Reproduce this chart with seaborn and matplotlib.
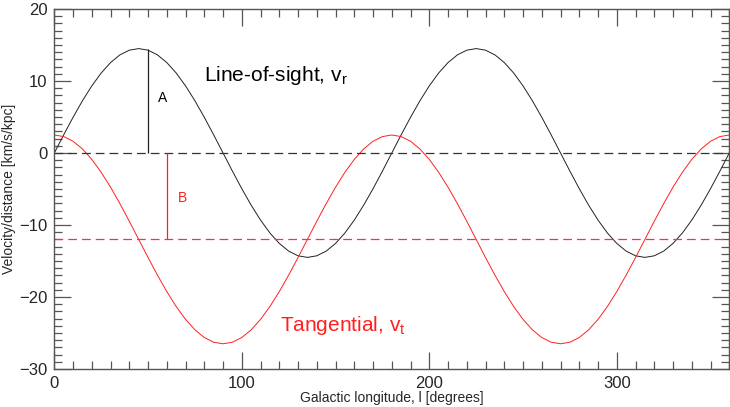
import matplotlib
matplotlib.use("Agg")
import matplotlib.pyplot as plt
from matplotlib.ticker import MultipleLocator
import seaborn as sns
import pandas as pd

# Galactic longitude samples (degrees)
longitude = [0, 5, 10, 15, 20, 25, 30, 35, 40, 45,
             50, 55, 60, 65, 70, 75, 80, 85, 90,
             95, 100, 105, 110, 115, 120, 125, 130, 135,
             140, 145, 150, 155, 160, 165, 170, 175, 180,
             185, 190, 195, 200, 205, 210, 215, 220, 225,
             230, 235, 240, 245, 250, 255, 260, 265, 270,
             275, 280, 285, 290, 295, 300, 305, 310, 315,
             320, 325, 330, 335, 340, 345, 350, 355, 360]

# Line-of-sight velocity / distance (km/s/kpc)
v_radial = [0, 2.52, 4.96, 7.25, 9.32, 11.11, 12.56, 13.63, 14.28, 14.5,
            14.28, 13.63, 12.56, 11.11, 9.32, 7.25, 4.96, 2.52, 0,
            -2.52, -4.96, -7.25, -9.32, -11.11, -12.56, -13.63, -14.28, -14.5,
            -14.28, -13.63, -12.56, -11.11, -9.32, -7.25, -4.96, -2.52, 0,
            2.52, 4.96, 7.25, 9.32, 11.11, 12.56, 13.63, 14.28, 14.5,
            14.28, 13.63, 12.56, 11.11, 9.32, 7.25, 4.96, 2.52, 0,
            -2.52, -4.96, -7.25, -9.32, -11.11, -12.56, -13.63, -14.28, -14.5,
            -14.28, -13.63, -12.56, -11.11, -9.32, -7.25, -4.96, -2.52, 0]

# Tangential velocity / distance (km/s/kpc)
v_tangential = [2.5, 2.28, 1.63, 0.56, -0.89, -2.68, -4.75, -7.04, -9.48, -12.0,
                -14.52, -16.96, -19.25, -21.32, -23.11, -24.56, -25.63, -26.28, -26.5,
                -26.28, -25.63, -24.56, -23.11, -21.32, -19.25, -16.96, -14.52, -12.0,
                -9.48, -7.04, -4.75, -2.68, -0.89, 0.56, 1.63, 2.28, 2.5,
                2.28, 1.63, 0.56, -0.89, -2.68, -4.75, -7.04, -9.48, -12.0,
                -14.52, -16.96, -19.25, -21.32, -23.11, -24.56, -25.63, -26.28, -26.5,
                -26.28, -25.63, -24.56, -23.11, -21.32, -19.25, -16.96, -14.52, -12.0,
                -9.48, -7.04, -4.75, -2.68, -0.89, 0.56, 1.63, 2.28, 2.5]

oort_A = 14.5
oort_B = -12.0
A_marker_l = 50
B_marker_l = 60

x_ticks = [0, 100, 200, 300]
y_ticks = [-30, -20, -10, 0, 10, 20]

df = pd.DataFrame({"l": longitude, "vr": v_radial, "vt": v_tangential})

sns.set_style("ticks")
plt.rcParams["font.family"] = ["Liberation Sans", "DejaVu Sans"]

fig = plt.figure(figsize=(7.3, 4.07), dpi=100)
ax = fig.add_axes([0.0744, 0.0934, 0.9246, 0.8845])

red = "#ff2020"
sns.lineplot(data=df, x="l", y="vr", ax=ax, color="#222222", linewidth=0.7)
sns.lineplot(data=df, x="l", y="vt", ax=ax, color=red, linewidth=0.7)

ax.axhline(0, color="#333333", linewidth=0.9, linestyle=(0, (7, 4)))
ax.axhline(oort_B, color="#ff3040", linewidth=0.9, linestyle=(0, (7, 4)))
ax.vlines(A_marker_l, 0, oort_A, color="#222222", linewidth=0.9)
ax.vlines(B_marker_l, oort_B, 0, color=red, linewidth=0.9)

ax.text(55.5, 7.6, "A", fontsize=10, color="black", va="center")
ax.text(66.0, -6.3, "B", fontsize=10, color=red, va="center")
ax.text(80.0, 10.8, r"Line-of-sight, v$_\mathregular{r}$", fontsize=15,
        color="black", va="center")
ax.text(120.5, -24.0, r"Tangential, v$_\mathregular{t}$", fontsize=15,
        color=red, va="center")

ax.set_xlim(0, 360)
ax.set_ylim(-30, 20)
ax.set_xticks(x_ticks)
ax.set_yticks(y_ticks)
ax.xaxis.set_minor_locator(MultipleLocator(10))
ax.yaxis.set_minor_locator(MultipleLocator(1))
ax.tick_params(which="both", direction="in", top=True, right=True,
               color="#555555", labelsize=12, pad=5)
ax.tick_params(which="major", length=12, width=0.9)
ax.tick_params(which="minor", length=6, width=0.9)
for s in ax.spines.values():
    s.set_color("#555555")
    s.set_linewidth(1.0)

ax.set_xlabel("Galactic longitude, l [degrees]", fontsize=10, labelpad=0)
ax.set_ylabel("Velocity/distance [km/s/kpc]", fontsize=10, labelpad=2)

fig.savefig("out.png", dpi=100)
